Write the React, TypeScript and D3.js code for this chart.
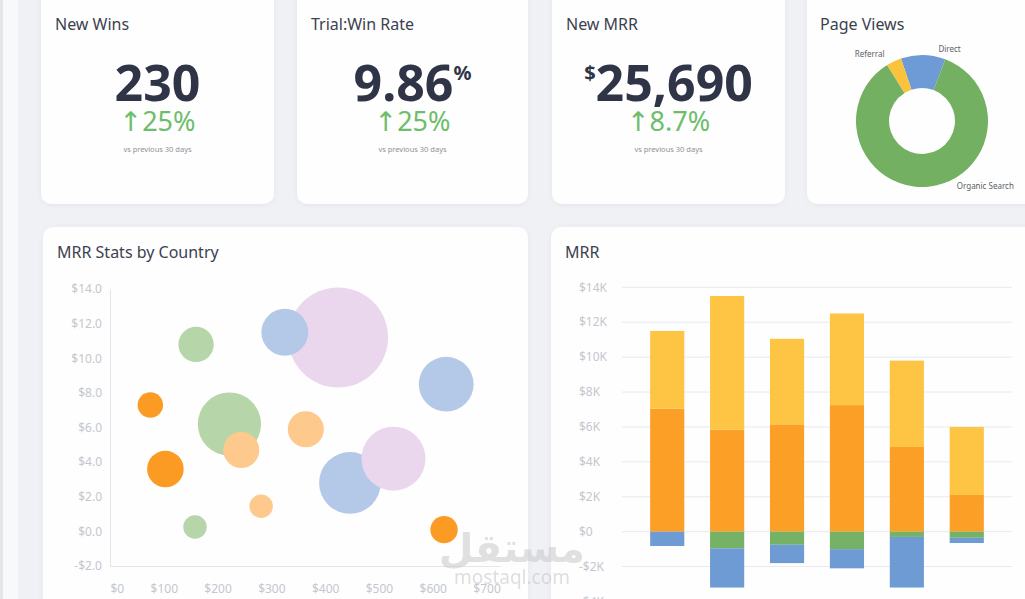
import * as d3 from 'd3';
import { useEffect, useRef } from 'react';

const WIDTH = 1025;
const HEIGHT = 599;
const FONT = "'Noto Sans', 'DejaVu Sans', sans-serif";

// KPI tiles
const kpiTitles = ['New Wins', 'Trial:Win Rate', 'New MRR'];
const kpiPrefixes = ['', '', '$'];
const kpiValues = ['230', '9.86', '25,690'];
const kpiSuffixes = ['', '%', ''];
const kpiChanges = ['25%', '25%', '8.7%'];

// Page views by traffic source
const sourceNames = ['Direct', 'Organic Search', 'Referral'];
const sourceViews = [109, 854, 37];
const sourceColors = ['#6e9bd6', '#73b062', '#fbc23c'];

// MRR stats by country
const countryNames = ['United States', 'Canada', 'United Kingdom', 'Germany', 'Australia'];
const countryColors = ['#fc9b24', '#fec98d', '#b6d6a9', '#b4c9e7', '#ead7ee'];
const bubbleCountry = [4, 3, 2, 1, 3, 4, 2, 3, 0, 1, 0, 1, 2, 0];
const bubbleRevenue = [424, 325, 222, 244, 446, 527, 160, 625, 75, 364, 103, 281, 158, 621];
const bubbleGrowth = [11.2, 11.5, 6.2, 4.7, 2.8, 4.2, 10.8, 8.5, 7.3, 5.9, 3.6, 1.45, 0.25, 0.1];
const bubbleSize = [100, 22, 40, 13, 38, 41, 12.5, 30, 6.5, 13, 13.4, 5.5, 5.5, 7.5];
const bubbleXTicks = [0, 100, 200, 300, 400, 500, 600, 700];
const bubbleYTicks = [-2, 0, 2, 4, 6, 8, 10, 12, 14];

// MRR movements per month
const months = ['Jan', 'Feb', 'Mar', 'Apr', 'May', 'Jun'];
const mrrNew = [7050, 5850, 6150, 7250, 4850, 2100];
const mrrExpansion = [4450, 7650, 4900, 5250, 4950, 3900];
const mrrContraction = [0, -950, -750, -1000, -300, -350];
const mrrChurn = [-820, -2250, -1050, -1100, -2900, -300];
const mrrKeys = ['new', 'expansion', 'contraction', 'churn'];
const mrrColors = ['#fc9f27', '#fec443', '#76b266', '#6e9bd4'];
const mrrTicks = [-4000, -2000, 0, 2000, 4000, 6000, 8000, 10000, 12000, 14000];

export default function App() {
  const svgRef = useRef<SVGSVGElement>(null);

  useEffect(() => {
    if (!svgRef.current) return;
    const svg = d3.select(svgRef.current);
    svg.selectAll('*').remove();

    const defs = svg.append('defs');
    const shadow = defs.append('filter').attr('id', 'card-shadow')
      .attr('x', '-10%').attr('y', '-10%').attr('width', '120%').attr('height', '120%');
    shadow.append('feDropShadow').attr('dx', 0).attr('dy', 1).attr('stdDeviation', 2)
      .attr('flood-color', '#8a94a6').attr('flood-opacity', 0.12);

    // page background + side rail
    svg.append('rect').attr('width', WIDTH).attr('height', HEIGHT).attr('fill', '#eff1f4');
    svg.append('rect').attr('x', 0).attr('width', 3).attr('height', HEIGHT).attr('fill', '#e3e5e8');
    svg.append('rect').attr('x', 3).attr('width', 15).attr('height', HEIGHT).attr('fill', '#f8f9fa');

    const card = (x: number, y: number, w: number, h: number) =>
      svg.append('rect').attr('x', x).attr('y', y).attr('width', w).attr('height', h)
        .attr('rx', 10).attr('fill', '#fefefe').attr('filter', 'url(#card-shadow)');

    const title = (x: number, y: number, t: string) =>
      svg.append('text').attr('x', x).attr('y', y).text(t)
        .attr('font-family', FONT).attr('font-size', 16).attr('fill', '#3c414e');

    // KPI cards
    const kpiX = [41, 297, 552];
    const kpiW = [233, 231, 233];
    kpiTitles.forEach((t, i) => {
      card(kpiX[i], -12, kpiW[i], 216);
      title(kpiX[i] + 14, 30, t);
      const cx = kpiX[i] + kpiW[i] / 2;
      const num = svg.append('text').attr('x', cx).attr('y', 101)
        .attr('text-anchor', 'middle').attr('font-family', FONT)
        .attr('font-weight', 700).attr('fill', '#2f3447');
      if (kpiPrefixes[i]) {
        num.append('tspan').attr('font-size', 20).attr('dy', -21).text(kpiPrefixes[i]);
        num.append('tspan').attr('font-size', 50).attr('dy', 21).text(kpiValues[i]);
      } else {
        num.append('tspan').attr('font-size', 50).text(kpiValues[i]);
      }
      if (kpiSuffixes[i]) {
        num.append('tspan').attr('font-size', 20).attr('dy', -21).text(kpiSuffixes[i]);
      }
      svg.append('text').attr('x', cx).attr('y', 131).attr('text-anchor', 'middle')
        .attr('font-family', FONT).attr('font-size', 27).attr('fill', '#6dbd6b')
        .text(`\u2191${kpiChanges[i]}`);
      svg.append('text').attr('x', cx).attr('y', 152).attr('text-anchor', 'middle')
        .attr('font-family', FONT).attr('font-size', 7.5).attr('fill', '#8f9196')
        .text('vs previous 30 days');
    });

    // Page views donut
    card(807, -12, 240, 216);
    title(820, 30, 'Page Views');
    const pie = d3.pie<number>().sort(null)
      .startAngle((-18.6 * Math.PI) / 180)
      .endAngle((-18.6 * Math.PI) / 180 + 2 * Math.PI);
    const arc = d3.arc<d3.PieArcDatum<number>>().innerRadius(33).outerRadius(66);
    const donut = svg.append('g').attr('transform', 'translate(922,121)');
    const slices = pie(sourceViews);
    donut.selectAll('path').data(slices).enter().append('path')
      .attr('d', arc).attr('fill', (_, i) => sourceColors[i]);
    // label spots around the ring (angle in degrees, radius, anchor)
    const labelSpots: Record<string, [number, number, string]> = {
      Direct: [21, 77, 'middle'],
      'Organic Search': [152, 74, 'start'],
      Referral: [-38, 85, 'middle'],
    };
    slices.forEach((s, i) => {
      const [deg, r, anchor] = labelSpots[sourceNames[i]];
      const a = (deg * Math.PI) / 180;
      donut.append('text')
        .attr('x', Math.sin(a) * r)
        .attr('y', -Math.cos(a) * r).attr('dy', '0.35em')
        .attr('text-anchor', anchor).attr('font-family', FONT).attr('font-size', 8)
        .attr('fill', '#5b5e66').text(sourceNames[i]);
    });

    // Bubble chart card
    card(43, 227, 485, 400);
    title(57, 258, 'MRR Stats by Country');
    const bx = d3.scaleLinear().domain([0, 725]).range([110, 500]);
    const by = d3.scaleLinear().domain([-2, 14]).range([566, 289]);
    const br = d3.scaleSqrt().domain([0, 100]).range([0, 50]);

    const yAxisB = svg.append('g').attr('transform', 'translate(110,0)')
      .call(d3.axisLeft(by).tickValues(bubbleYTicks).tickSize(0).tickPadding(8)
        .tickFormat((d) => {
          const v = +d;
          return `${v < 0 ? '-' : ''}$${Math.abs(v).toFixed(1)}`;
        }));
    const xAxisB = svg.append('g').attr('transform', 'translate(0,566)')
      .call(d3.axisBottom(bx).tickValues(bubbleXTicks).tickSize(0).tickPadding(18)
        .tickFormat((d) => `$${d}`));
    [yAxisB, xAxisB].forEach((ax) => {
      ax.select('.domain').attr('stroke', '#e4e5e8');
      ax.selectAll('text').attr('font-family', FONT).attr('font-size', 12).attr('fill', '#c4c7ce');
    });
    xAxisB.selectAll<SVGTextElement, number>('text')
      .filter((d) => d === 0).attr('text-anchor', 'start');

    svg.append('g').selectAll('circle').data(bubbleRevenue).enter().append('circle')
      .attr('cx', (d) => bx(d))
      .attr('cy', (_, i) => by(bubbleGrowth[i]))
      .attr('r', (_, i) => br(bubbleSize[i]))
      .attr('fill', (_, i) => countryColors[bubbleCountry[i]])
      .append('title').text((d, i) => `${countryNames[bubbleCountry[i]]}: $${d}`);

    // MRR stacked bars card
    card(551, 227, 490, 400);
    title(565, 258, 'MRR');
    const rows = months.map((m, i) => ({
      month: m,
      new: mrrNew[i],
      expansion: mrrExpansion[i],
      contraction: mrrContraction[i],
      churn: mrrChurn[i],
    }));
    const stack = d3.stack<any>().keys(mrrKeys).offset(d3.stackOffsetDiverging);
    const layers = stack(rows);
    const x = d3.scaleBand().domain(months).range([622, 1012]).paddingInner(0.43).paddingOuter(0.47);
    const y = d3.scaleLinear().domain([-4000, 14000]).range([601.5, 287.3]);

    const grid = svg.append('g');
    grid.selectAll('line').data(mrrTicks).enter().append('line')
      .attr('x1', 622).attr('x2', 1012)
      .attr('y1', (d) => y(d)).attr('y2', (d) => y(d))
      .attr('stroke', '#e8e9ec').attr('stroke-width', 1);
    grid.selectAll('text').data(mrrTicks).enter().append('text')
      .attr('x', 579).attr('y', (d) => y(d)).attr('dy', '0.35em')
      .attr('font-family', FONT).attr('font-size', 12).attr('fill', '#c4c7ce')
      .text((d) => (d === 0 ? '$0' : `${d < 0 ? '-' : ''}$${Math.abs(d) / 1000}K`));

    svg.append('g').selectAll('g').data(layers).enter().append('g')
      .attr('fill', (_, i) => mrrColors[i])
      .selectAll('rect').data((d) => d).enter().append('rect')
      .attr('x', (d) => x(d.data.month) || 0)
      .attr('width', x.bandwidth())
      .attr('y', (d) => y(Math.max(d[0], d[1])))
      .attr('height', (d) => Math.abs(y(d[0]) - y(d[1])));

    // watermark
    svg.append('text').attr('x', 512).attr('y', 562).attr('text-anchor', 'middle')
      .attr('font-family', FONT).attr('font-size', 40).attr('font-weight', 700)
      .attr('fill', '#c9c9c9').attr('opacity', 0.55).text('مستقل');
    svg.append('text').attr('x', 512).attr('y', 584).attr('text-anchor', 'middle')
      .attr('font-family', FONT).attr('font-size', 19)
      .attr('fill', '#c9c9c9').attr('opacity', 0.6).text('mostaql.com');
  }, []);

  return (
    <svg
      ref={svgRef}
      width={WIDTH}
      height={HEIGHT}
      style={{ position: 'absolute', left: 0, top: 0, display: 'block' }}
    />
  );
}
